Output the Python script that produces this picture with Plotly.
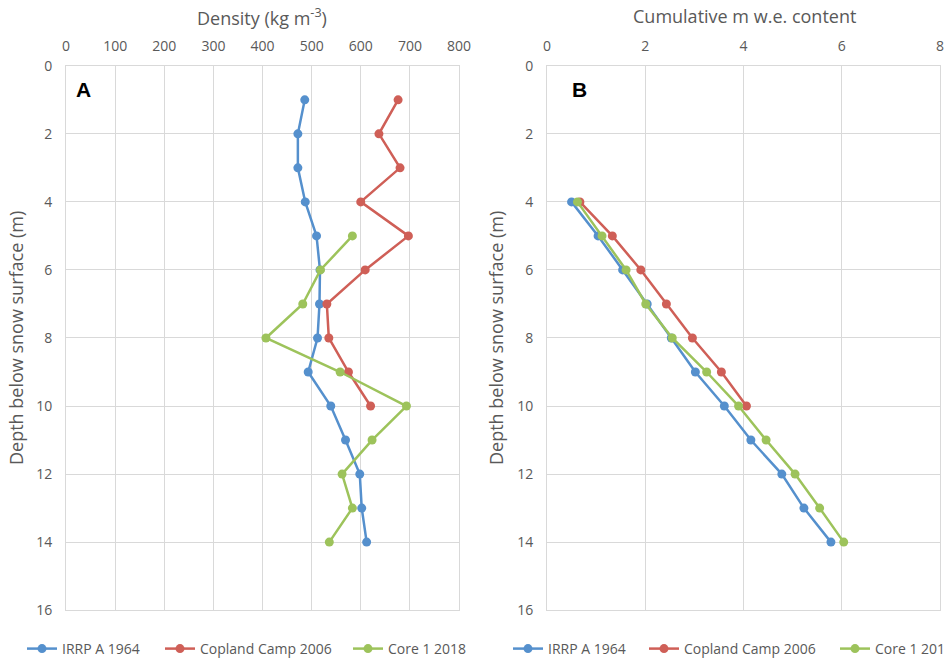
import plotly.graph_objects as go

# ---- data ----
series_names = ["IRRP A 1964", "Copland Camp 2006", "Core 1 2018"]
colors = ["#5590CD", "#CF5F57", "#9DC35B"]

# Panel A: density (kg m-3) vs depth (m)
depth_a_irrp = [1, 2, 3, 4, 5, 6, 7, 8, 9, 10, 11, 12, 13, 14]
dens_irrp = [486, 472, 472, 487, 510, 517, 516, 512, 493, 539, 569, 598, 602, 612]
depth_a_copland = [1, 2, 3, 4, 5, 6, 7, 8, 9, 10]
dens_copland = [676, 637, 680, 600, 697, 609, 531, 535, 575, 620]
depth_a_core = [5, 6, 7, 8, 9, 10, 11, 12, 13, 14]
dens_core = [583, 518, 482, 407, 558, 693, 623, 562, 583, 536]

# Panel B: cumulative m w.e. content vs depth (m)
depth_b_irrp = [4, 5, 6, 7, 8, 9, 10, 11, 12, 13, 14]
cum_irrp = [0.50, 1.04, 1.54, 2.04, 2.53, 3.02, 3.61, 4.15, 4.78, 5.23, 5.78]
depth_b_copland = [4, 5, 6, 7, 8, 9, 10]
cum_copland = [0.67, 1.33, 1.91, 2.43, 2.96, 3.55, 4.06]
depth_b_core = [4, 5, 6, 7, 8, 9, 10, 11, 12, 13, 14]
cum_core = [0.62, 1.12, 1.61, 2.01, 2.55, 3.25, 3.90, 4.46, 5.05, 5.55, 6.04]

xticks_a = [0, 100, 200, 300, 400, 500, 600, 700, 800]
xticks_b = [0, 2, 4, 6, 8]
yticks = [0, 2, 4, 6, 8, 10, 12, 14, 16]

W, H = 946, 665
fig = go.Figure()

panel_a = [(dens_irrp, depth_a_irrp), (dens_copland, depth_a_copland), (dens_core, depth_a_core)]
panel_b = [(cum_irrp, depth_b_irrp), (cum_copland, depth_b_copland), (cum_core, depth_b_core)]

# one legend box per entry so spacing matches the reference
legend_left_px = [22, 160, 348, 508, 644, 835]
legend_font = dict(family="Open Sans", size=14, color="#595959")

for i, (x, y) in enumerate(panel_a):
    fig.add_trace(go.Scatter(x=x, y=y, mode="lines+markers", name=series_names[i],
                             line=dict(color=colors[i], width=2.5),
                             marker=dict(color=colors[i], size=9), showlegend=True,
                             xaxis="x", yaxis="y", legend="legend" if i == 0 else f"legend{i + 1}"))
for i, (x, y) in enumerate(panel_b):
    fig.add_trace(go.Scatter(x=x, y=y, mode="lines+markers", name=series_names[i],
                             line=dict(color=colors[i], width=2.5),
                             marker=dict(color=colors[i], size=9), showlegend=True,
                             xaxis="x2", yaxis="y2", legend=f"legend{i + 4}"))

grid = "#d9d9d9"
tickfont = dict(family="Open Sans", size=14, color="#595959")
ytop, ybot = 1 - 66 / H, 1 - 612 / H

common_x = dict(side="top", showgrid=True, gridcolor=grid, gridwidth=1, zeroline=False,
                showline=True, mirror=True, linecolor=grid, linewidth=1, ticks="",
                tickfont=tickfont, ticklabelstandoff=8, automargin=False)
common_y = dict(autorange=False, showgrid=True, gridcolor=grid, gridwidth=1, zeroline=False,
                showline=True, mirror=True, linecolor=grid, linewidth=1, ticks="",
                tickfont=tickfont, tickvals=yticks, ticklabelstandoff=10, automargin=False)

legends = {}
for k, lx in enumerate(legend_left_px):
    key = "legend" if k == 0 else f"legend{k + 1}"
    legends[key] = dict(orientation="h", x=lx / W, xanchor="left", y=1 - 651 / H, yanchor="middle",
                        font=legend_font, bgcolor="rgba(0,0,0,0)")
# last entry runs off the right edge in the reference; keep its box narrow so it does not push margins
legends["legend6"].update(entrywidth=63, entrywidthmode="pixels")

title_font = dict(family="Open Sans", size=18, color="#595959")


def ann(text, px, py, font, angle=0):
    return dict(text=text, x=px / W, y=1 - py / H, xref="paper", yref="paper",
                xanchor="center", yanchor="middle", textangle=angle, showarrow=False, font=font)


fig.update_layout(
    width=W, height=H,
    margin=dict(l=0, r=0, t=0, b=0),
    paper_bgcolor="white", plot_bgcolor="white",
    showlegend=True,
    xaxis=dict(domain=[66 / W, 459 / W], range=[0, 800], tickvals=xticks_a, anchor="y", **common_x),
    yaxis=dict(domain=[ybot, ytop], range=[16, 0], anchor="x", **common_y),
    xaxis2=dict(domain=[547 / W, 940 / W], range=[0, 8], tickvals=xticks_b, anchor="y2", **common_x),
    yaxis2=dict(domain=[ybot, ytop], range=[16, 0], anchor="x2", **common_y),
    annotations=[
        ann("Density (kg m<sup>-3</sup>)", 262, 17, title_font),
        ann("Cumulative m w.e. content", 744, 16, title_font),
        ann("Depth below snow surface (m)", 16, 339, title_font, -90),
        ann("Depth below snow surface (m)", 496, 339, title_font, -90),
        ann("<b>A</b>", 83, 90, dict(family="Liberation Sans", size=21, color="black")),
        ann("<b>B</b>", 579, 90, dict(family="Liberation Sans", size=21, color="black")),
    ],
    **legends,
)

fig.write_html("out.html")
